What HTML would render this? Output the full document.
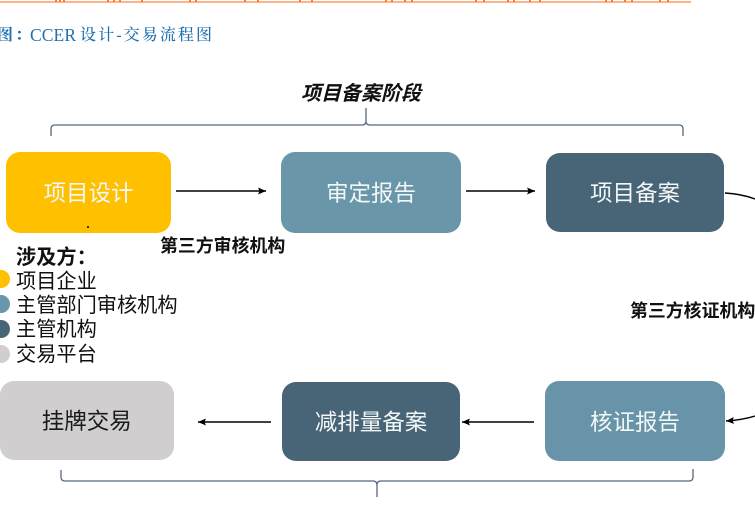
<!DOCTYPE html>
<html lang="zh">
<head>
<meta charset="utf-8">
<style>
html,body{margin:0;padding:0;background:#fff}
#p{position:relative;width:755px;height:505px;overflow:hidden;background:#fff;font-family:"Liberation Sans","Noto Sans CJK SC",sans-serif}
.b{position:absolute;box-sizing:border-box;padding-top:4px;border-radius:14px;display:flex;align-items:center;justify-content:center;color:#f4f7f8;font-size:22.5px;line-height:1;white-space:nowrap}
.t{position:absolute;white-space:nowrap;line-height:1;color:#111}
.d{position:absolute;width:18px;height:18px;border-radius:50%;left:-8px}
svg{position:absolute;left:0;top:0}
</style>
</head>
<body>
<div id="p">
<svg width="755" height="505" viewBox="0 0 755 505" fill="none">
  <defs>
    <marker id="a" markerUnits="userSpaceOnUse" markerWidth="9" markerHeight="8" refX="8" refY="3.5" orient="auto">
      <path d="M0 0L8 3.5L0 7L1.5 3.5Z" fill="#000"/>
    </marker>
  </defs>
  <path d="M0 2H691" stroke="#ff9a60" stroke-width="1.6"/>
  <path d="M56 0V2M60 0V2M64 0V2M108 0V2M114 0V2M120 0V2M142 0V2M190 0V2M196 0V2M245 0V2M258 0V2M300 0V2M312 0V2M386 0V2M392 0V2M405 0V2M412 0V2M476 0V2M484 0V2M508 0V2M514 0V2M530 0V2M540 0V2M606 0V2M612 0V2M625 0V2M632 0V2M660 0V2M668 0V2" stroke="#ff7a30" stroke-width="2"/>
  <path d="M51 136V129Q51 125 55 125H362Q366 125 366 121V108M366 121Q366 125 370 125H679Q683 125 683 129V136" stroke="#56677f" stroke-width="1.3"/>
  <path d="M61 470V477Q61 481 65 481H373Q377 481 377 485V497M377 485Q377 481 381 481H689Q693 481 693 477V469" stroke="#56677f" stroke-width="1.3"/>
  <path d="M176 191H266" stroke="#000" stroke-width="1.4" marker-end="url(#a)"/>
  <path d="M466 191H535" stroke="#000" stroke-width="1.4" marker-end="url(#a)"/>
  <path d="M271 422H198" stroke="#000" stroke-width="1.4" marker-end="url(#a)"/>
  <path d="M534 422H462" stroke="#000" stroke-width="1.4" marker-end="url(#a)"/>
  <path d="M725 193Q742 194 755 199" stroke="#000" stroke-width="1.4"/>
  <path d="M755 416Q742 420 726 421" stroke="#000" stroke-width="1.4" marker-end="url(#a)"/>
</svg>

<div class="t" style="left:-3px;top:27px;font:700 16px 'Liberation Serif','Noto Serif CJK SC',serif;color:#1f70b0;letter-spacing:2.1px;line-height:17px">图：<span style="position:absolute;left:33px;letter-spacing:.1px;font-size:17.5px;font-weight:400">CCER</span><span style="position:absolute;left:83px;font-weight:500">设计-交易流程图</span></div>

<div class="t" style="left:301px;top:84px;font-size:20px;font-weight:700;font-style:italic">项目备案阶段</div>

<div class="b" style="left:6px;top:152px;width:165px;height:81px;background:#ffc000">项目设计</div>
<div class="b" style="left:281px;top:152px;width:180px;height:81px;background:#6a96a9">审定报告</div>
<div class="b" style="left:546px;top:153px;width:178px;height:79px;background:#476577">项目备案</div>
<div class="b" style="left:545px;top:381px;width:180px;height:80px;background:#6794a8">核证报告</div>
<div class="b" style="left:282px;top:382px;width:178px;height:79px;background:#476577">减排量备案</div>
<div class="b" style="left:0;top:381px;width:173.500px;height:79px;background:#d0cece;color:#1a1a1a">挂牌交易</div>

<div style="position:absolute;left:87px;top:226px;width:2px;height:2px;background:#333"></div>

<div class="t" style="left:160px;top:238px;font-size:17.9px;font-weight:700">第三方审核机构</div>
<div class="t" style="left:630px;top:303px;font-size:17.9px;font-weight:700">第三方核证机构</div>

<div class="t" style="left:16px;top:248px;font-size:20.2px;font-weight:700">涉及方：</div>
<div class="d" style="top:270px;background:#ffc000"></div>
<div class="t" style="left:16px;top:272px;font-size:20.2px">项目企业</div>
<div class="d" style="top:295px;background:#6a96a9"></div>
<div class="t" style="left:16px;top:296px;font-size:20.2px">主管部门审核机构</div>
<div class="d" style="top:320px;background:#476577"></div>
<div class="t" style="left:16px;top:320px;font-size:20.2px">主管机构</div>
<div class="d" style="top:345px;background:#d0cece"></div>
<div class="t" style="left:16px;top:345px;font-size:20.2px">交易平台</div>
</div>
</body>
</html>
